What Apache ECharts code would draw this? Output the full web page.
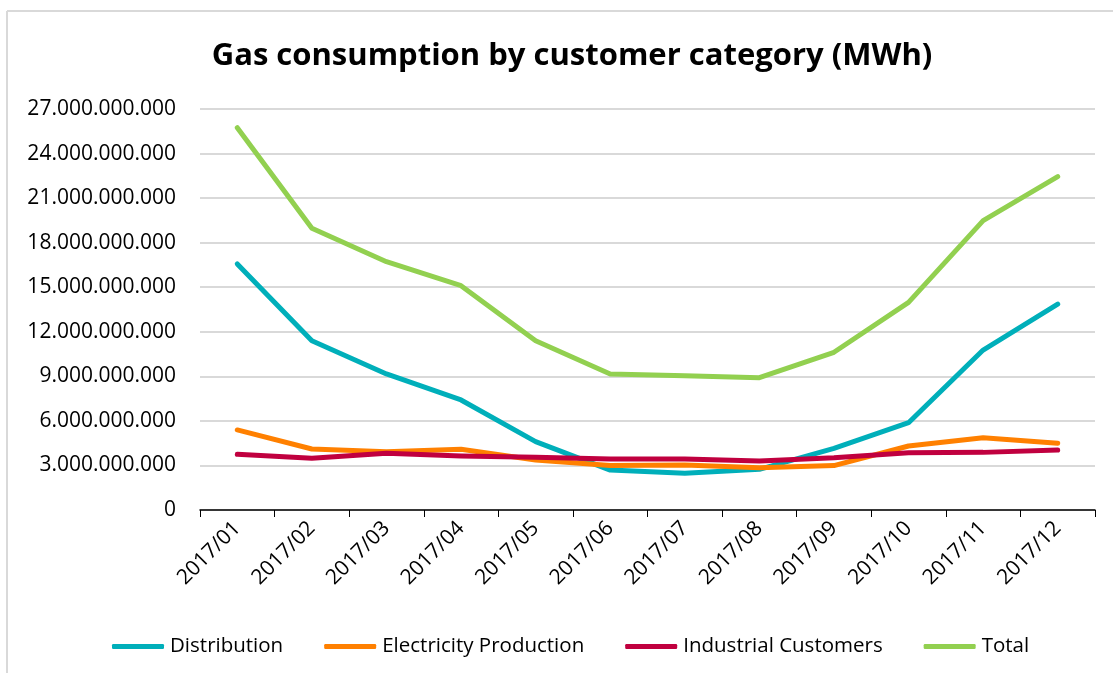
<!DOCTYPE html>
<html>
<head>
<meta charset="utf-8">
<script src="https://cdn.jsdelivr.net/npm/echarts@6/dist/echarts.min.js"></script>
<style>html,body{margin:0;padding:0;background:#fff}#c{width:1113px;height:673px}</style>
</head>
<body>
<div id="c"></div>
<script>
const categories = ['2017/01','2017/02','2017/03','2017/04','2017/05','2017/06','2017/07','2017/08','2017/09','2017/10','2017/11','2017/12'];
const distribution = [16.57e9, 11.40e9, 9.16e9, 7.41e9, 4.60e9, 2.69e9, 2.47e9, 2.74e9, 4.15e9, 5.88e9, 10.77e9, 13.87e9];
const electricity = [5.39e9, 4.11e9, 3.93e9, 4.09e9, 3.37e9, 2.99e9, 3.03e9, 2.85e9, 2.99e9, 4.31e9, 4.87e9, 4.49e9];
const industrial = [3.75e9, 3.48e9, 3.82e9, 3.64e9, 3.55e9, 3.43e9, 3.43e9, 3.30e9, 3.52e9, 3.86e9, 3.88e9, 4.04e9];
const total = [25.74e9, 18.97e9, 16.72e9, 15.10e9, 11.40e9, 9.16e9, 9.04e9, 8.91e9, 10.62e9, 13.98e9, 19.48e9, 22.45e9];
const seriesNames = ['Distribution','Electricity Production','Industrial Customers','Total'];
const colors = ['#00AFBA','#FF8000','#C0003F','#92D050'];

const FONT = 'Open Sans';
function fmt(v){ return String(Math.round(v)).replace(/\B(?=(\d{3})+(?!\d))/g,'.'); }

const chart = echarts.init(document.getElementById('c'));
const mk = (name, data, i) => ({
  name, type:'line', data, symbol:'none', smooth:false,
  lineStyle:{width:5, color:colors[i], cap:'round', join:'round'},
  itemStyle:{color:colors[i]}
});
chart.setOption({
  animation:false,
  backgroundColor:'#fff',
  graphic:[
    {type:'line', shape:{x1:7,y1:11,x2:1113,y2:11}, style:{stroke:'#d9d9d9',lineWidth:2}},
    {type:'line', shape:{x1:7,y1:11,x2:7,y2:673}, style:{stroke:'#d9d9d9',lineWidth:2}}
  ],
  title:{text:'Gas consumption by customer category (MWh)', left:567, top:36, textAlign:'center',
    textStyle:{fontFamily:FONT, fontWeight:'bold', fontSize:31, color:'#000'}},
  grid:{left:200, right:18, top:109, bottom:163, containLabel:false},
  legend:{data:seriesNames, bottom:11, left:107, itemWidth:52, itemHeight:5, itemGap:41,
    icon:'roundRect',
    textStyle:{fontFamily:FONT, fontSize:20.5, color:'#000', padding:[0,0,0,1]}},
  xAxis:{type:'category', data:categories, boundaryGap:true,
    axisLine:{lineStyle:{color:'#000', width:1.5}},
    axisTick:{show:true, length:7, lineStyle:{color:'#000'}, alignWithLabel:false},
    axisLabel:{rotate:45, fontFamily:FONT, fontSize:21, color:'#000', margin:15, interval:0}},
  yAxis:{type:'value', min:0, max:27e9, interval:3e9,
    axisLine:{show:false}, axisTick:{show:false},
    splitLine:{lineStyle:{color:'#d9d9d9', width:2}},
    axisLabel:{formatter:fmt, fontFamily:FONT, fontSize:21, color:'#000', margin:24}},
  series:[mk(seriesNames[0],distribution,0), mk(seriesNames[1],electricity,1), mk(seriesNames[2],industrial,2), mk(seriesNames[3],total,3)]
});
</script>
</body>
</html>
